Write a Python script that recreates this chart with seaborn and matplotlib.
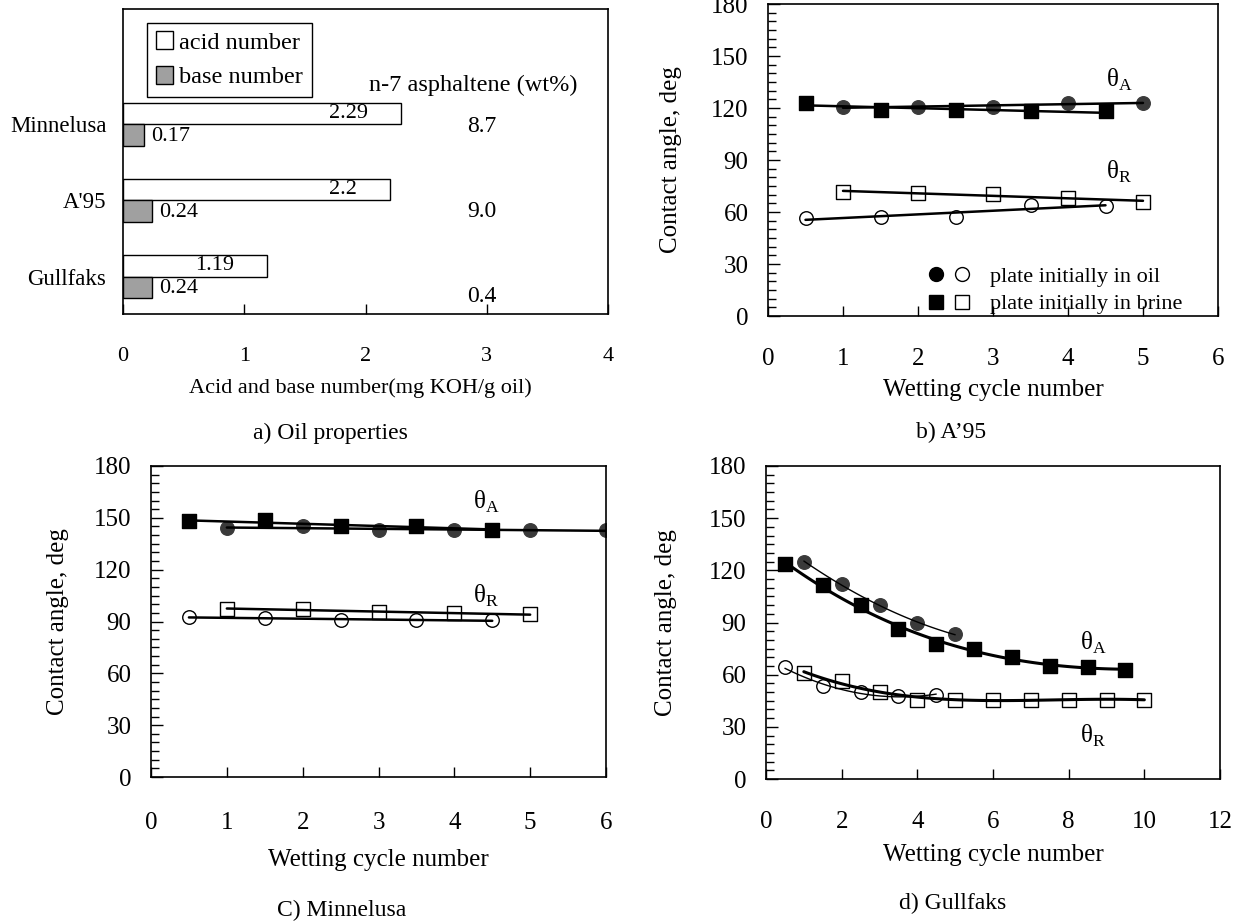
import numpy as np
import pandas as pd
import matplotlib
matplotlib.use("Agg")
import matplotlib.pyplot as plt
from matplotlib.lines import Line2D
from matplotlib.patches import Patch
from matplotlib.legend_handler import HandlerTuple
from matplotlib.ticker import MultipleLocator
import seaborn as sns

# ---------------- data ----------------
oils = ["Minnelusa", "A'95", "Gullfaks"]
acid_number = [2.29, 2.2, 1.19]
base_number = [0.17, 0.24, 0.24]
asphaltene = ["8.7", "9.0", "0.4"]

# b) A'95
b_oil_adv_x = [1, 2, 3, 4, 5]
b_oil_adv_y = [120.8, 120.4, 120.4, 123.0, 123.0]
b_brine_adv_x = [0.5, 1.5, 2.5, 3.5, 4.5]
b_brine_adv_y = [123.0, 118.8, 119.0, 118.0, 118.0]
b_oil_rec_x = [0.5, 1.5, 2.5, 3.5, 4.5]
b_oil_rec_y = [56.7, 57.0, 57.0, 64.0, 63.7]
b_brine_rec_x = [1, 2, 3, 4, 5]
b_brine_rec_y = [71.7, 70.8, 70.2, 67.9, 66.0]

# c) Minnelusa
c_oil_adv_x = [1, 2, 3, 4, 5, 6]
c_oil_adv_y = [144.0, 145.4, 142.7, 142.7, 143.1, 142.7]
c_brine_adv_x = [0.5, 1.5, 2.5, 3.5, 4.5]
c_brine_adv_y = [147.9, 148.5, 145.0, 145.0, 143.1]
c_oil_rec_x = [0.5, 1.5, 2.5, 3.5, 4.5]
c_oil_rec_y = [92.8, 91.8, 90.7, 90.7, 90.9]
c_brine_rec_x = [1, 2, 3, 4, 5]
c_brine_rec_y = [97.4, 97.0, 95.5, 94.7, 94.1]

# d) Gullfaks
d_oil_adv_x = [1, 2, 3, 4, 5]
d_oil_adv_y = [125.0, 112.2, 99.8, 89.6, 83.3]
d_brine_adv_x = [0.5, 1.5, 2.5, 3.5, 4.5, 5.5, 6.5, 7.5, 8.5, 9.5]
d_brine_adv_y = [123.7, 111.6, 99.8, 86.4, 77.6, 74.7, 70.1, 65.1, 64.3, 62.8]
d_oil_rec_x = [0.5, 1.5, 2.5, 3.5, 4.5]
d_oil_rec_y = [64.3, 53.2, 49.8, 47.9, 48.4]
d_brine_rec_x = [1, 2, 3, 4, 5, 6, 7, 8, 9, 10]
d_brine_rec_y = [60.9, 56.5, 50.0, 45.6, 45.6, 45.6, 45.6, 45.6, 45.6, 45.6]

# ---------------- style ----------------
sns.set_theme(style="ticks", rc={
    "axes.edgecolor": "black", "axes.linewidth": 1.2,
    "xtick.color": "black", "ytick.color": "black",
    "text.color": "black", "axes.labelcolor": "black",
    "font.size": 18, "axes.labelsize": 18, "xtick.labelsize": 18,
    "ytick.labelsize": 18, "legend.fontsize": 16,
})
plt.rcParams["font.family"] = ["Liberation Serif", "DejaVu Serif"]
plt.rcParams["mathtext.fontset"] = "custom"
plt.rcParams["mathtext.rm"] = "Liberation Serif"

W, H = 1239, 924
fig = plt.figure(figsize=(W / 100, H / 100), dpi=100)


def px_axes(x0, x1, y0, y1):
    return fig.add_axes([x0 / W, 1 - y1 / H, (x1 - x0) / W, (y1 - y0) / H])


ax_a = px_axes(123, 608, 9, 314)
ax_b = px_axes(768, 1218, 4, 316)
ax_c = px_axes(151, 606, 466, 777)
ax_d = px_axes(766, 1220, 466, 779)

# ---------------- panel a ----------------
df_a = pd.DataFrame({
    "oil": oils * 2,
    "value": acid_number + base_number,
    "kind": ["acid number"] * 3 + ["base number"] * 3,
})
pal = {"acid number": "white", "base number": "#a0a0a0"}
sns.barplot(data=df_a, x="value", y="oil", hue="kind", orient="h",
            palette=pal, saturation=1, edgecolor="black", linewidth=1,
            width=0.566, ax=ax_a, legend=False)
ax_a.set_xlim(0, 4)
ax_a.set_ylim(2.49, -1.51)
ax_a.set_xticks([0, 1, 2, 3, 4])
ax_a.set_xlabel("Acid and base number(mg KOH/g oil)", fontsize=16)
ax_a.set_ylabel("")
ax_a.tick_params(axis="x", direction="in", length=7, width=1, pad=24, labelsize=16)
ax_a.tick_params(axis="y", length=0, pad=12, labelsize=16.5)
ax_a.xaxis.set_label_coords(0.49, -0.21)

off = 0.566 / 4
for i, (a, b) in enumerate(zip(acid_number, base_number)):
    ax_a.text(a - 0.27, i - off, f"{a:g}", ha="right", va="center", fontsize=16)
    ax_a.text(b + 0.06, i + off + 0.02, f"{b:g}", ha="left", va="center", fontsize=16)
asp_dy = [0.03, 0.14, 0.26]
for i, s in enumerate(asphaltene):
    ax_a.text(2.96, i + asp_dy[i], s, ha="center", va="center", fontsize=17)
ax_a.text(2.89, -0.51, "n-7 asphaltene (wt%)", ha="center", va="center", fontsize=17.5)

leg_a = ax_a.legend(
    handles=[Patch(facecolor="white", edgecolor="black", lw=1),
             Patch(facecolor="#a0a0a0", edgecolor="black", lw=1)],
    labels=["acid number", "base number"],
    loc="upper left", bbox_to_anchor=(0.05, 0.955), frameon=True,
    fancybox=False, edgecolor="black", framealpha=1, handlelength=0.72,
    handleheight=0.75, handletextpad=0.25, borderpad=0.35, labelspacing=0.5,
    borderaxespad=0, fontsize=17.5)
leg_a.get_frame().set_linewidth(1)


# ---------------- contact angle panels ----------------
def series(ax, x, y, marker, filled, order=1, lw=1.8, fcol="black"):
    face = fcol if filled else "white"
    sns.scatterplot(x=x, y=y, ax=ax, marker=marker, s=95, color=face,
                    edgecolor=fcol if filled else "black", linewidth=1,
                    zorder=2, legend=False)
    sns.regplot(x=np.array(x, float), y=np.array(y, float), ax=ax, order=order,
                ci=None, truncate=True, scatter=False,
                line_kws=dict(color="black", lw=lw, zorder=3))


def style_angle_axes(ax, xmax, xstep, xpad, xlabel_y, ylabel_x):
    ax.set_ylim(0, 180)
    ax.set_xlim(0, xmax)
    ax.set_xticks(np.arange(0, xmax + 0.01, xstep))
    ax.set_yticks(np.arange(0, 181, 30))
    ax.yaxis.set_minor_locator(MultipleLocator(5))
    ax.tick_params(axis="x", which="major", direction="in", length=7, width=1,
                   pad=xpad, top=False)
    ax.tick_params(axis="y", which="major", direction="in", length=8.5, width=1,
                   pad=14, right=False)
    ax.tick_params(axis="y", which="minor", direction="in", length=6, width=1,
                   left=True, right=False)
    ax.set_xlabel("Wetting cycle number")
    ax.set_ylabel("Contact angle, deg")
    ax.xaxis.set_label_coords(0.5, xlabel_y)
    ax.yaxis.set_label_coords(ylabel_x, 0.5)
    for sp in ax.spines.values():
        sp.set_visible(True)
        sp.set_color("black")


GRAY = "#3a3a3a"
# b
series(ax_b, b_oil_adv_x, b_oil_adv_y, "o", True, fcol=GRAY)
series(ax_b, b_brine_adv_x, b_brine_adv_y, "s", True)
series(ax_b, b_oil_rec_x, b_oil_rec_y, "o", False)
series(ax_b, b_brine_rec_x, b_brine_rec_y, "s", False)
style_angle_axes(ax_b, 6, 1, 23, -0.203, -0.19)
ax_b.text(4.5, 136, r"θ$_{\mathrm{A}}$", ha="left", va="center", fontsize=18)
ax_b.text(4.5, 83, r"θ$_{\mathrm{R}}$", ha="left", va="center", fontsize=18)

h_fc = Line2D([], [], ls="none", marker="o", ms=10, mfc="black", mec="black")
h_oc = Line2D([], [], ls="none", marker="o", ms=10, mfc="white", mec="black")
h_fs = Line2D([], [], ls="none", marker="s", ms=10, mfc="black", mec="black")
h_os = Line2D([], [], ls="none", marker="s", ms=10, mfc="white", mec="black")
ax_b.legend(handles=[(h_fc, h_oc), (h_fs, h_os)],
            labels=["plate initially in oil", "plate initially in brine"],
            handler_map={tuple: HandlerTuple(ndivide=None, pad=0.35)},
            loc="lower left", bbox_to_anchor=(0.352, 0.005), frameon=False,
            handlelength=2.0, handletextpad=0.85, labelspacing=0.3,
            borderpad=0, borderaxespad=0, fontsize=16)

# c
series(ax_c, c_oil_adv_x, c_oil_adv_y, "o", True, fcol=GRAY)
series(ax_c, c_brine_adv_x, c_brine_adv_y, "s", True)
series(ax_c, c_oil_rec_x, c_oil_rec_y, "o", False)
series(ax_c, c_brine_rec_x, c_brine_rec_y, "s", False)
style_angle_axes(ax_c, 6, 1, 25, -0.23, -0.18)
ax_c.text(4.24, 159, r"θ$_{\mathrm{A}}$", ha="left", va="center", fontsize=18)
ax_c.text(4.24, 105, r"θ$_{\mathrm{R}}$", ha="left", va="center", fontsize=18)

# d
series(ax_d, d_oil_adv_x, d_oil_adv_y, "o", True, order=2, lw=1.0, fcol=GRAY)
series(ax_d, d_brine_adv_x, d_brine_adv_y, "s", True, order=3, lw=2.2)
series(ax_d, d_oil_rec_x, d_oil_rec_y, "o", False, order=2, lw=1.0)
series(ax_d, d_brine_rec_x, d_brine_rec_y, "s", False, order=3, lw=2.2)
style_angle_axes(ax_d, 12, 2, 23, -0.208, -0.197)
ax_d.text(8.3, 78, r"θ$_{\mathrm{A}}$", ha="left", va="center", fontsize=18)
ax_d.text(8.3, 25, r"θ$_{\mathrm{R}}$", ha="left", va="center", fontsize=18)

# ---------------- captions ----------------
captions = ["a) Oil properties", "b) A\u201995", "C) Minnelusa", "d) Gullfaks"]
cap_pos = [(330, 433), (951, 432), (342, 910), (953, 903)]
for txt, (cx, cy) in zip(captions, cap_pos):
    fig.text(cx / W, 1 - cy / H, txt, ha="center", va="center", fontsize=17)

fig.savefig("out.png", dpi=100, facecolor="white")
